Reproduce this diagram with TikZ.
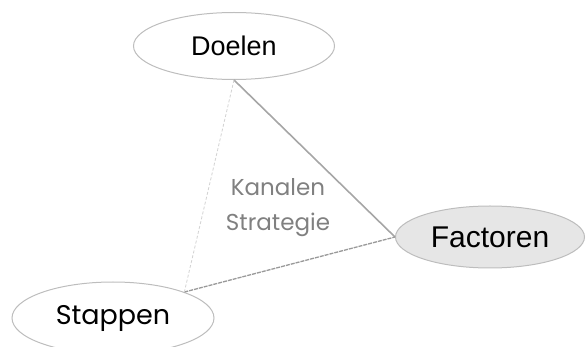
\documentclass[tikz,border=0pt]{standalone}
\usepackage{fontspec}
\setmainfont{Liberation Sans}
\newfontfamily\geofont{Poppins}
\usetikzlibrary{shapes.geometric}
\definecolor{rim}{HTML}{BDBDBD}
\definecolor{pale}{HTML}{E6E6E6}
\definecolor{midgray}{HTML}{808080}
\tikzset{
  bubble/.style={ellipse, draw=rim, line width=1pt, inner sep=0pt},
  solidlink/.style={draw=gray!70, line width=1.6pt},
  dashlink/.style={draw=gray!80, line width=1.3pt, dash pattern=on 4pt off 1pt},
  faintlink/.style={draw=gray!35, line width=0.8pt, dash pattern=on 3pt off 2pt},
}
\begin{document}
\begin{tikzpicture}[x=1pt,y=-1pt]
  \useasboundingbox (0,0) rectangle (587,347);
  \node[bubble, minimum width=201pt, minimum height=67pt, fill=white,
        font=\fontsize{27}{30}\selectfont] (doel) at (234,46) {Doelen};
  \node[bubble, minimum width=189pt, minimum height=62pt, fill=pale,
        font=\fontsize{30}{34}\selectfont] (fact) at (490,237) {Factoren};
  \node[bubble, minimum width=202pt, minimum height=72pt, fill=white,
        font=\geofont\fontsize{27}{30}\selectfont] (stap) at (113,318) {Stappen};
  \node[text=midgray, align=center, font=\geofont\fontsize{23}{35}\selectfont]
    (kan) at (278,208) {Kanalen\\Strategie};
  \draw[solidlink] (doel.south) -- (fact.west);
  \draw[dashlink] (stap.20) -- (fact.west);
  \draw[faintlink] (doel.south) -- (stap.20);
\end{tikzpicture}
\end{document}
